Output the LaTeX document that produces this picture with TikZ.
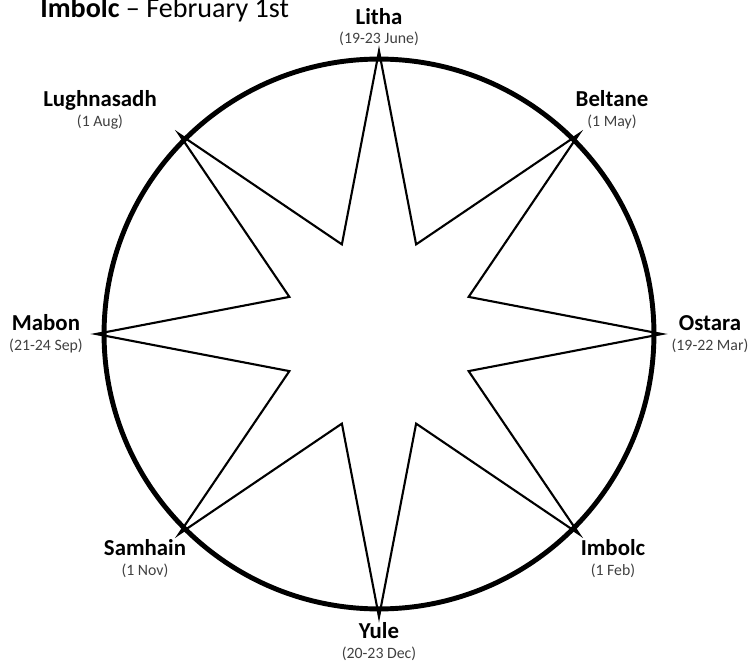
\documentclass[tikz,border=0pt]{standalone}
\usepackage{fontspec}
\setmainfont{Carlito}
\usetikzlibrary{positioning}
\definecolor{dategray}{HTML}{404040}

\begin{document}
\begin{tikzpicture}[x=0.02cm, y=-0.02cm, every node/.style={inner sep=0pt, anchor=base}]
    \useasboundingbox (0,0) rectangle (750,662);

    % wheel and star
    \coordinate (c) at (379,334);
    \draw[line width=2.8pt] (c) circle[radius=5.5cm];
    \draw[line width=1.2pt, line join=miter, shift={(c)}] (0:283)
      \foreach \a in {0,45,...,315} { -- (\a+22.5:97) -- (\a+45:283) } -- cycle;

    % title
    \node[anchor=base west, font=\fontsize{16}{19}\selectfont] (title) at (40,18) {\textbf{Imbolc} -- February 1st};

    % festivals
    \node[font=\fontsize{13}{15}\selectfont\bfseries] (litha) at (379,25) {Litha};
    \node[font=\fontsize{9}{11}\selectfont, dategray] (lithadate) at (379,44) {(19-23 June)};

    \node[font=\fontsize{13}{15}\selectfont\bfseries] (beltane) at (612,107) {Beltane};
    \node[font=\fontsize{9}{11}\selectfont, dategray] (beltanedate) at (612,127) {(1 May)};

    \node[font=\fontsize{13}{15}\selectfont\bfseries] (lugh) at (100,107) {Lughnasadh};
    \node[font=\fontsize{9}{11}\selectfont, dategray] (lughdate) at (100,127) {(1 Aug)};

    \node[font=\fontsize{13}{15}\selectfont\bfseries] (mabon) at (46,330) {Mabon};
    \node[font=\fontsize{9}{11}\selectfont, dategray] (mabondate) at (46,350) {(21-24 Sep)};

    \node[font=\fontsize{13}{15}\selectfont\bfseries] (ostara) at (710,330) {Ostara};
    \node[font=\fontsize{9}{11}\selectfont, dategray] (ostaradate) at (710,350) {(19-22 Mar)};

    \node[font=\fontsize{13}{15}\selectfont\bfseries] (samhain) at (145,555) {Samhain};
    \node[font=\fontsize{9}{11}\selectfont, dategray] (samhaindate) at (145,575) {(1 Nov)};

    \node[font=\fontsize{13}{15}\selectfont\bfseries] (imbolc) at (613,555) {Imbolc};
    \node[font=\fontsize{9}{11}\selectfont, dategray] (imbolcdate) at (613,575) {(1 Feb)};

    \node[font=\fontsize{13}{15}\selectfont\bfseries] (yule) at (379,638) {Yule};
    \node[font=\fontsize{9}{11}\selectfont, dategray] (yuledate) at (379,658) {(20-23 Dec)};
\end{tikzpicture}
\end{document}
